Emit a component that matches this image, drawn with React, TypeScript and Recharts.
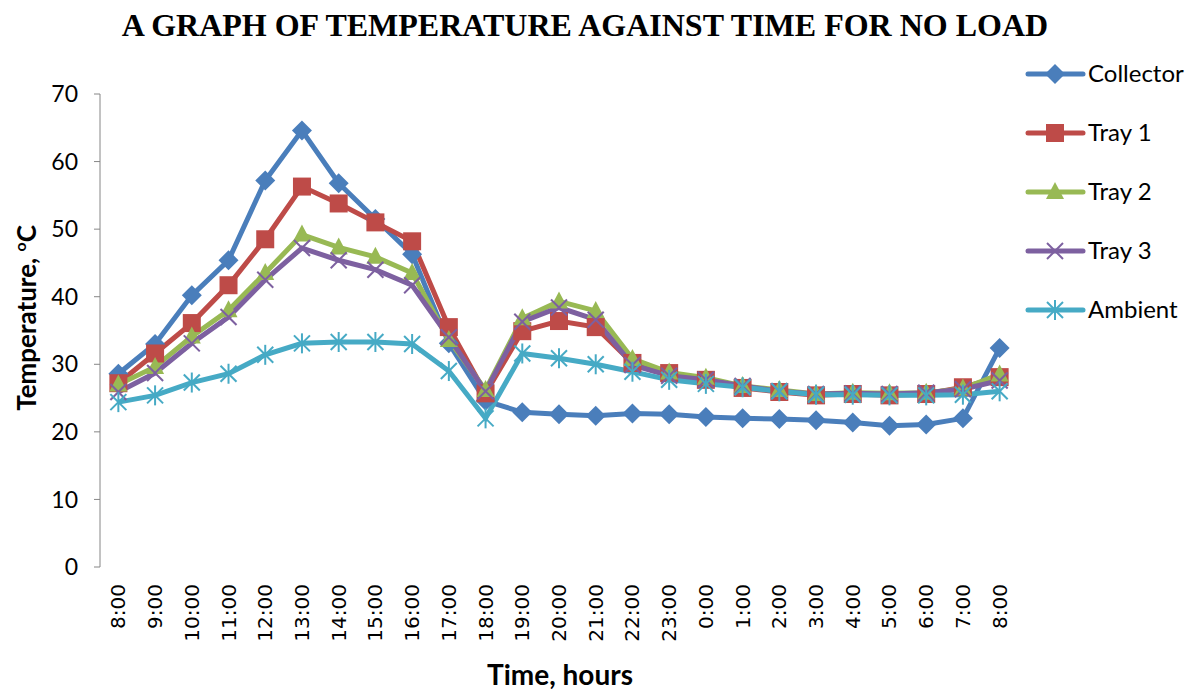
import React from 'react';
import { LineChart, Line, XAxis, YAxis } from 'recharts';

document.body.style.margin = '0';

const times = [
  '8:00', '9:00', '10:00', '11:00', '12:00', '13:00', '14:00', '15:00', '16:00',
  '17:00', '18:00', '19:00', '20:00', '21:00', '22:00', '23:00', '0:00', '1:00',
  '2:00', '3:00', '4:00', '5:00', '6:00', '7:00', '8:00',
];

const collector = [28.6, 33.0, 40.2, 45.4, 57.2, 64.6, 56.8, 51.5, 46.3, 33.1, 24.6, 22.9, 22.6, 22.4, 22.7, 22.6, 22.2, 22.0, 21.9, 21.7, 21.4, 20.9, 21.1, 22.0, 32.4];
const tray1 = [27.2, 31.6, 36.1, 41.7, 48.5, 56.3, 53.8, 51.0, 48.2, 35.5, 25.7, 34.9, 36.4, 35.5, 30.2, 28.7, 27.7, 26.5, 25.9, 25.4, 25.6, 25.4, 25.6, 26.6, 28.1];
const tray2 = [27.0, 29.6, 34.1, 38.0, 43.5, 49.2, 47.3, 45.9, 43.5, 33.6, 26.2, 36.8, 39.3, 37.9, 30.8, 28.8, 28.0, 26.8, 26.2, 25.6, 25.8, 25.7, 25.8, 26.4, 28.5];
const tray3 = [25.9, 28.7, 33.1, 37.0, 42.5, 47.2, 45.4, 44.0, 41.7, 34.0, 26.0, 36.3, 38.4, 36.6, 29.9, 28.3, 27.7, 26.8, 26.0, 25.6, 25.7, 25.6, 25.8, 26.3, 27.6];
const ambient = [24.4, 25.4, 27.3, 28.6, 31.4, 33.1, 33.3, 33.3, 33.0, 29.0, 22.0, 31.6, 30.9, 30.0, 28.9, 27.7, 27.1, 26.6, 26.0, 25.5, 25.5, 25.4, 25.4, 25.5, 26.0];

const yTicks = [0, 10, 20, 30, 40, 50, 60, 70];

type Shape = 'diamond' | 'square' | 'triangle' | 'x' | 'star';

const series: { key: string; name: string; color: string; shape: Shape; values: number[] }[] = [
  { key: 'collector', name: 'Collector', color: '#4A7EBB', shape: 'diamond', values: collector },
  { key: 'tray1', name: 'Tray 1', color: '#BE4B48', shape: 'square', values: tray1 },
  { key: 'tray2', name: 'Tray 2', color: '#98B954', shape: 'triangle', values: tray2 },
  { key: 'tray3', name: 'Tray 3', color: '#7D60A0', shape: 'x', values: tray3 },
  { key: 'ambient', name: 'Ambient', color: '#46AAC5', shape: 'star', values: ambient },
];

const data = times.map((t, i) => {
  const row: Record<string, string | number> = { time: t };
  series.forEach(s => { row[s.key] = s.values[i]; });
  return row;
});

// tick marks sit between the categories, like the original spreadsheet chart
const boundaryTicks = times.map((_, i) => i).concat(times.length);
const PLOT_W = 918;
const halfBand = PLOT_W / times.length / 2;

function marker(shape: Shape, color: string, cx: number, cy: number, key?: string | number) {
  switch (shape) {
    case 'diamond':
      return <polygon key={key} points={`${cx},${cy - 10} ${cx + 10},${cy} ${cx},${cy + 10} ${cx - 10},${cy}`} fill={color} />;
    case 'square':
      return <rect key={key} x={cx - 9} y={cy - 9} width={18} height={18} fill={color} />;
    case 'triangle':
      return <polygon key={key} points={`${cx},${cy - 10} ${cx + 9},${cy + 7} ${cx - 9},${cy + 7}`} fill={color} />;
    case 'x':
      return (
        <g key={key} stroke={color} strokeWidth={2}>
          <line x1={cx - 8} y1={cy - 8} x2={cx + 8} y2={cy + 8} />
          <line x1={cx - 8} y1={cy + 8} x2={cx + 8} y2={cy - 8} />
        </g>
      );
    default:
      return (
        <g key={key} stroke={color} strokeWidth={2}>
          <line x1={cx - 8} y1={cy - 8} x2={cx + 8} y2={cy + 8} />
          <line x1={cx - 8} y1={cy + 8} x2={cx + 8} y2={cy - 8} />
          <line x1={cx} y1={cy - 10} x2={cx} y2={cy + 10} />
        </g>
      );
  }
}

const makeDot = (shape: Shape, color: string) => (props: any) =>
  marker(shape, color, props.cx, props.cy, `${shape}-${props.index}`);

const noTick = () => <g />;

const TimeTick = (props: any) => {
  const { x, y, payload } = props;
  return (
    <g transform={`translate(${x},${y})`}>
      <text
        transform="rotate(-90)"
        x={-17}
        y={0}
        dy={7}
        textAnchor="end"
        fontFamily="'DejaVu Sans', sans-serif"
        fontSize={20}
        fill="#000"
      >
        {payload.value}
      </text>
    </g>
  );
};

const labelFont = "Lato, 'Open Sans', sans-serif";

export default function App() {
  return (
    <div style={{ position: 'relative', width: 1189, height: 689, background: '#fff' }}>
      <div
        style={{
          position: 'absolute', left: 0, width: 1170, top: 7, textAlign: 'center',
          fontFamily: "'Liberation Serif', 'Times New Roman', serif", fontWeight: 'bold', fontSize: 32,
        }}
      >
        A GRAPH OF TEMPERATURE AGAINST TIME FOR NO LOAD
      </div>
      <LineChart width={1189} height={689} data={data} margin={{ top: 94, right: 171, bottom: 0, left: 0 }}>
        <XAxis
          xAxisId="grid"
          type="number"
          domain={[0, times.length]}
          ticks={boundaryTicks}
          tick={noTick}
          tickSize={6}
          height={0}
          axisLine={{ stroke: '#868686', strokeWidth: 1 }}
          tickLine={{ stroke: '#868686' }}
          allowDataOverflow
        />
        <XAxis
          xAxisId="cat"
          dataKey="time"
          interval={0}
          height={122}
          padding={{ left: halfBand, right: halfBand }}
          axisLine={false}
          tickLine={false}
          tickSize={0}
          tickMargin={0}
          tick={<TimeTick />}
        />
        <YAxis
          domain={[0, 70]}
          ticks={yTicks}
          width={100}
          tickSize={6}
          tickMargin={16}
          axisLine={{ stroke: '#868686' }}
          tickLine={{ stroke: '#868686' }}
          tick={{ fill: '#000', fontSize: 23, fontFamily: labelFont }}
        />
        {series.map(s => (
          <Line
            key={s.key}
            xAxisId="cat"
            type="linear"
            dataKey={s.key}
            name={s.name}
            stroke={s.color}
            strokeWidth={5}
            dot={makeDot(s.shape, s.color)}
            activeDot={false}
            isAnimationActive={false}
          />
        ))}
      </LineChart>
      <div
        style={{
          position: 'absolute', left: 26, top: 318, transform: 'translate(-50%, -50%) rotate(-90deg)',
          whiteSpace: 'nowrap', fontFamily: labelFont, fontWeight: 'bold', fontSize: 26,
        }}
      >
        Temperature, <sup style={{ fontSize: 16 }}>o</sup>C
      </div>
      <div
        style={{
          position: 'absolute', left: 560, top: 674, transform: 'translate(-50%, -50%)',
          whiteSpace: 'nowrap', fontFamily: labelFont, fontWeight: 'bold', fontSize: 28,
        }}
      >
        Time, hours
      </div>
      <svg style={{ position: 'absolute', left: 1020, top: 44 }} width={169} height={300}>
        {series.map((s, i) => {
          const cy = 30 + i * 59;
          return (
            <g key={s.key}>
              <line x1={8} y1={cy} x2={63} y2={cy} stroke={s.color} strokeWidth={5} strokeLinecap="round" />
              {marker(s.shape, s.color, 35, cy)}
              <text x={68} y={cy} dy={8} fontFamily={labelFont} fontSize={24} fill="#000">{s.name}</text>
            </g>
          );
        })}
      </svg>
    </div>
  );
}
